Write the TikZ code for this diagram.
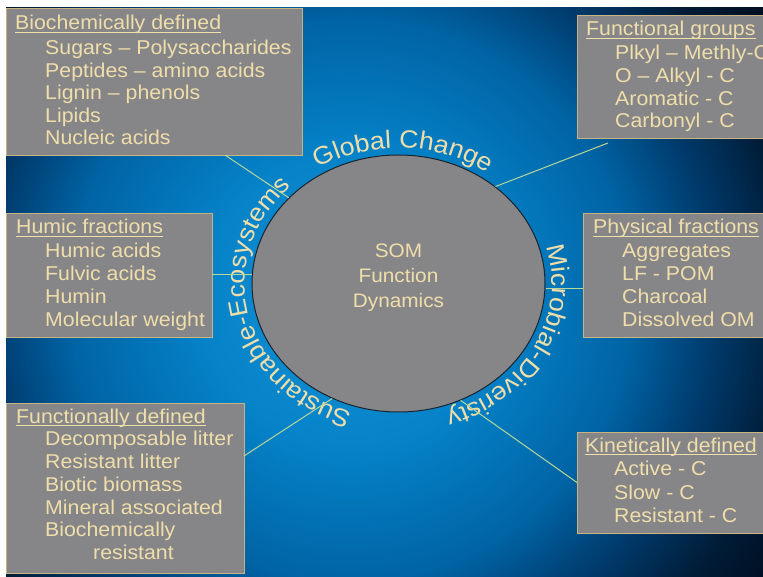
\documentclass[tikz,border=0pt]{standalone}
\usepackage{fontspec}
\setmainfont{Liberation Sans}[FakeStretch=1.065]
\usetikzlibrary{shapes.geometric,decorations.text}

% palette
\definecolor{txt}{RGB}{240,222,170}
\definecolor{boxgray}{RGB}{134,134,136}
\definecolor{boxline}{RGB}{200,180,130}
\definecolor{linkcol}{RGB}{185,215,150}
\definecolor{ellline}{RGB}{25,35,45}
\definecolor{bgA}{RGB}{25,150,215}
\definecolor{bgB}{RGB}{5,130,200}
\definecolor{bgC}{RGB}{0,100,165}
\definecolor{bgD}{RGB}{0,60,110}
\definecolor{bgE}{RGB}{0,28,55}
\definecolor{bgF}{RGB}{0,12,28}

% the inner 50bp square is mapped onto the backdrop square
\pgfdeclareradialshading{bgglow}{\pgfpoint{0bp}{0bp}}{%
  color(0bp)=(bgA); color(7.2bp)=(bgB); color(13.46bp)=(bgC);
  color(17.31bp)=(bgD); color(21.15bp)=(bgE); color(25bp)=(bgF);
  color(50bp)=(bgF)}

\newcommand\boxfont{\fontsize{20}{22.6}\selectfont}
\newcommand\curvefont{\fontsize{25}{30}\selectfont}
\newcommand\somfont{\fontsize{19.5}{25}\selectfont}

\tikzset{
  panel/.style={draw=boxline, line width=0.8pt, fill=boxgray,
                inner sep=0pt, outer sep=0pt, anchor=north west},
  head/.style={font=\boxfont, text=txt, inner sep=0pt, anchor=base west},
  item/.style={font=\boxfont, text=txt, inner sep=0pt, anchor=base west},
  uline/.style={draw=txt, line width=1pt},
  link/.style={draw=linkcol, line width=1pt},
  curved/.style={decorate, decoration={text along path, text align=center,
                 text={|\curvefont\color{txt}|#1}}}
}

\begin{document}
\begin{tikzpicture}[x=1pt,y=1pt]
\useasboundingbox (0,0) rectangle (763,576);
\fill[white] (0,0) rectangle (763,576);

% glowing blue backdrop
\begin{scope}
  \clip (6,0) rectangle (763,568);
  \shade[shading=bgglow] (-170,-244) rectangle (870,796);
\end{scope}

% central disc
\node[ellipse, draw=ellline, line width=1pt, fill=boxgray, inner sep=0pt,
      minimum width=293, minimum height=257] (som) at (398.5,292.5) {};
\node[font=\somfont, text=txt, align=center] (somtext) at (398.5,298.2)
  {SOM\\Function\\Dynamics};

% words around the disc
\path[curved={Global Change}]
  (som.center) ++(158:153.5 and 135.5)
  arc[start angle=158, end angle=18, x radius=153.5, y radius=135.5];
\path[curved={Microbial-Diveristy}]
  (som.center) ++(43:153.5 and 135.5)
  arc[start angle=43, end angle=-97, x radius=153.5, y radius=135.5];
\path[curved={Sustainable-Ecosystems}]
  (som.center) ++(263:153.5 and 135.5)
  arc[start angle=263, end angle=123, x radius=153.5, y radius=135.5];

% panels
\node[panel, minimum width=296, minimum height=147] (b1) at (6,568) {};
\node[panel, minimum width=193, minimum height=123] (b2) at (577,561) {};
\node[panel, minimum width=206, minimum height=124] (b3) at (6,363) {};
\node[panel, minimum width=187, minimum height=124] (b4) at (583,363) {};
\node[panel, minimum width=238, minimum height=170] (b5) at (6,173) {};
\node[panel, minimum width=193, minimum height=101] (b6) at (577,144) {};

% connectors
\draw[link] ([xshift=219pt]b1.south west) -- (som.142.5);
\draw[link] ([xshift=31pt,yshift=-5pt]b2.south west) -- (som.45.6);
\draw[link] (b3.east) -- (som.west |- b3.east);
\coordinate (k4) at ([yshift=-14pt]b4.west);
\draw[link] (som.east |- k4) -- (k4);
\draw[link] ([yshift=32pt]b5.east) -- (som.240.3);
\draw[link] (som.298.6) -- (b6.west);

% panel texts
\node[head] (h1) at (15,546) {Biochemically defined};
\foreach \t [count=\i from 0] in {Sugars – Polysaccharides, Peptides – amino acids,
    Lignin – phenols, Lipids, Nucleic acids}
  \node[item] (i1-\i) at (45,521-22.5*\i) {\t};

\node[head] (h2) at (586,540) {Functional groups};
\foreach \t [count=\i from 0] in {Plkyl – Methly-C, O – Alkyl - C,
    Aromatic - C, Carbonyl - C}
  \node[item] (i2-\i) at (615,516-22.6*\i) {\t};

\node[head] (h3) at (16,342) {Humic fractions};
\foreach \t [count=\i from 0] in {Humic acids, Fulvic acids, Humin, Molecular weight}
  \node[item] (i3-\i) at (45,318-23*\i) {\t};

\node[head] (h4) at (593,342) {Physical fractions};
\foreach \t [count=\i from 0] in {Aggregates, LF - POM, Charcoal, Dissolved OM}
  \node[item] (i4-\i) at (622,318-23*\i) {\t};

\node[head] (h5) at (16,153) {Functionally defined};
\foreach \t [count=\i from 0] in {Decomposable litter, Resistant litter,
    Biotic biomass, Mineral associated, Biochemically}
  \node[item] (i5-\i) at (45,130-22.7*\i) {\t};
\node[item] (i5-5) at (93,16.5) {resistant};

\node[head] (h6) at (585,124) {Kinetically defined};
\foreach \t [count=\i from 0] in {Active - C, Slow - C, Resistant - C}
  \node[item] (i6-\i) at (614,100-23*\i) {\t};

% header underlines
\foreach \h in {h1,h2,h3,h4,h5,h6}
  \draw[uline] ([yshift=-2.5pt]\h.base west) -- ([yshift=-2.5pt]\h.base east);
\end{tikzpicture}
\end{document}
